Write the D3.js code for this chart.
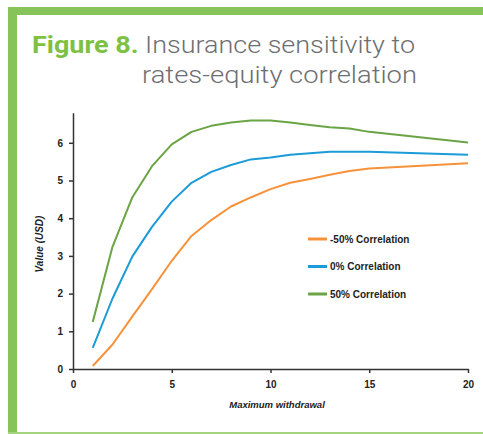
<!DOCTYPE html>
<html>
<head>
<meta charset="utf-8">
<script src="https://cdn.jsdelivr.net/npm/d3@7"></script>
<style>
  body { margin: 0; background: #fff; }
  svg { display: block; }
</style>
</head>
<body>
<div id="chart"></div>
<script>
// data
let withdrawal = [1, 2, 3, 4, 5, 6, 7, 8, 9, 10, 11, 12, 13, 14, 15, 20];
let corrNeg50 = [0.08, 0.65, 1.39, 2.12, 2.87, 3.53, 3.95, 4.31, 4.55, 4.77, 4.94, 5.04, 5.15, 5.25, 5.32, 5.46];
let corr0 = [0.56, 1.87, 2.98, 3.77, 4.44, 4.94, 5.23, 5.41, 5.56, 5.61, 5.68, 5.72, 5.76, 5.76, 5.76, 5.68];
let corr50 = [1.25, 3.24, 4.55, 5.38, 5.96, 6.29, 6.45, 6.54, 6.59, 6.59, 6.54, 6.47, 6.41, 6.38, 6.29, 6.01];
let seriesNames = ['-50% Correlation', '0% Correlation', '50% Correlation'];
let xTicks = [0, 5, 10, 15, 20];
let yTicks = [0, 1, 2, 3, 4, 5, 6];

let W = 483, H = 434;
let colors = ['#f7923a', '#1b9bd7', '#6aa444'];

let svg = d3.select('#chart').append('svg')
  .attr('width', W)
  .attr('height', H);

// green frame
let frameGreen = '#86c45a';
svg.append('rect').attr('x', 8).attr('y', 7).attr('width', W - 8).attr('height', 8).attr('fill', frameGreen);
svg.append('rect').attr('x', 8).attr('y', 7).attr('width', 9).attr('height', H - 7).attr('fill', frameGreen);
svg.append('rect').attr('x', 8).attr('y', 432).attr('width', W - 8).attr('height', 2).attr('fill', '#a5d47f');

// title (stretched to the width of the original lettering)
let title = svg.append('text')
  .attr('x', 32).attr('y', 53)
  .attr('textLength', 383)
  .attr('lengthAdjust', 'spacingAndGlyphs')
  .style('font-family', 'Roboto, sans-serif')
  .style('font-size', '24px');
title.append('tspan').text('Figure 8.').attr('fill', '#7dc142').attr('font-weight', 700);
title.append('tspan').text(' Insurance sensitivity to').attr('fill', '#6d6e71').attr('font-weight', 300);
svg.append('text')
  .attr('x', 142).attr('y', 83)
  .attr('textLength', 275)
  .attr('lengthAdjust', 'spacingAndGlyphs')
  .style('font-family', 'Roboto, sans-serif')
  .style('font-size', '24px')
  .attr('font-weight', 300)
  .attr('fill', '#6d6e71')
  .text('rates-equity correlation');

// plot area
let x0 = 73, x1 = 468, yBottom = 369;
let x = d3.scaleLinear().domain([0, 20]).range([x0, x1]);
let y = d3.scaleLinear().domain([0, 6.8]).range([yBottom, yBottom - 6.8 * 37.7]);

let xAxis = svg.append('g')
  .attr('transform', 'translate(0,' + yBottom + ')')
  .call(d3.axisBottom(x).tickValues(xTicks).tickFormat(d3.format('d')).tickSize(4).tickPadding(8).tickSizeOuter(0));
let yAxis = svg.append('g')
  .attr('transform', 'translate(' + x0 + ',0)')
  .call(d3.axisLeft(y).tickValues(yTicks).tickFormat(d3.format('d')).tickSize(4).tickPadding(6).tickSizeOuter(0));

[xAxis, yAxis].forEach(g => {
  g.select('.domain').attr('stroke', '#333').attr('stroke-width', 1.5);
  g.selectAll('.tick line').attr('stroke', '#333').attr('stroke-width', 1.5);
  g.selectAll('.tick text')
    .attr('fill', '#222')
    .style('font-family', '"Liberation Sans", Arial, sans-serif')
    .style('font-size', '10px')
    .style('font-weight', 'bold');
});

// axis titles
svg.append('text')
  .attr('x', 277).attr('y', 408)
  .attr('text-anchor', 'middle')
  .style('font-family', '"Liberation Sans", Arial, sans-serif')
  .style('font-size', '9.5px')
  .style('font-weight', 'bold')
  .style('font-style', 'italic')
  .attr('fill', '#222')
  .text('Maximum withdrawal');

svg.append('text')
  .attr('transform', 'translate(43,244) rotate(-90)')
  .attr('text-anchor', 'middle')
  .style('font-family', '"Liberation Sans", Arial, sans-serif')
  .style('font-size', '10px')
  .style('font-weight', 'bold')
  .style('font-style', 'italic')
  .attr('fill', '#222')
  .text('Value (USD)');

// lines
let allSeries = [corrNeg50, corr0, corr50];
let line = d3.line()
  .x((d, i) => x(withdrawal[i]))
  .y(d => y(d));

svg.append('g').selectAll('path')
  .data(allSeries)
  .enter()
  .append('path')
    .attr('d', d => line(d))
    .attr('fill', 'none')
    .attr('stroke', (d, i) => colors[i])
    .attr('stroke-width', 2)
    .attr('stroke-linejoin', 'round');

// legend
let leg = svg.append('g');
leg.selectAll('line')
  .data(seriesNames)
  .enter()
  .append('line')
    .attr('x1', 308).attr('x2', 327)
    .attr('y1', (d, i) => 239 + i * 27.5)
    .attr('y2', (d, i) => 239 + i * 27.5)
    .attr('stroke', (d, i) => colors[i])
    .attr('stroke-width', 3);
leg.selectAll('text')
  .data(seriesNames)
  .enter()
  .append('text')
    .attr('x', 330)
    .attr('y', (d, i) => 239 + i * 27.5)
    .attr('dy', '0.35em')
    .style('font-family', '"Liberation Sans", Arial, sans-serif')
    .style('font-size', '10px')
    .style('font-weight', 'bold')
    .attr('fill', '#222')
    .text(d => d);
</script>
</body>
</html>
